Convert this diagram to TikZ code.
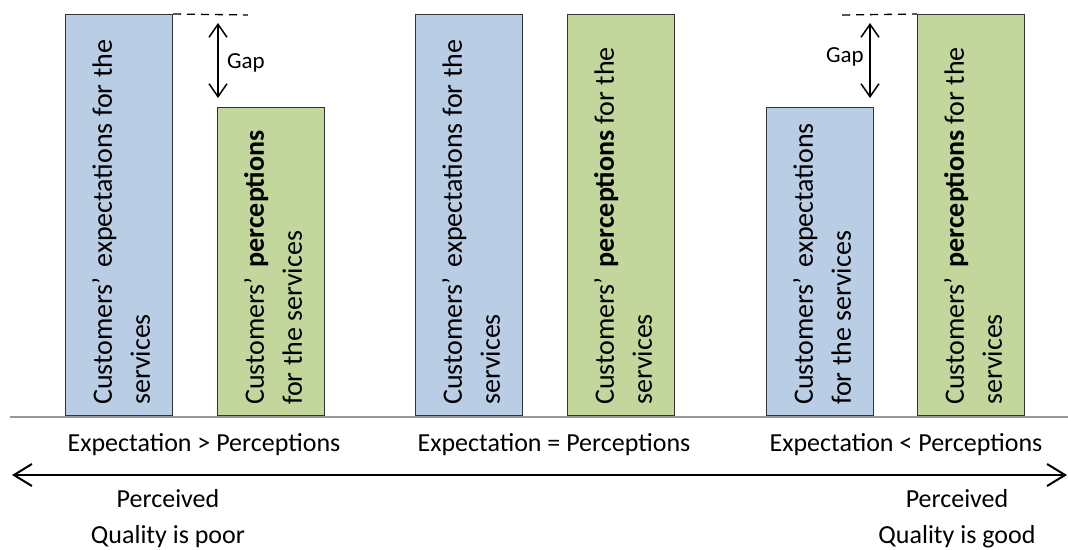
\documentclass[tikz,border=0pt]{standalone}
\usepackage{fontspec}
\setmainfont{Carlito}
\usepackage{tikz}
\usetikzlibrary{arrows.meta}
\definecolor{ExpectBlue}{HTML}{B9CDE5}
\definecolor{PerceiveGreen}{HTML}{C3D69B}
\definecolor{BarEdge}{HTML}{333333}
\definecolor{GroundGray}{HTML}{969696}

\begin{document}
\begin{tikzpicture}[x=1pt,y=-1pt,
    bar/.style={draw=BarEdge, line width=1pt, inner sep=0pt, minimum width=107pt, anchor=south west},
    expbar/.style={bar, fill=ExpectBlue},
    perbar/.style={bar, fill=PerceiveGreen},
    bartext/.style={rotate=90, anchor=west, align=left, inner sep=0pt, font=\fontsize{28}{38}\selectfont},
    caption/.style={anchor=base, inner sep=0pt, font=\fontsize{26}{30}\selectfont},
    gaplabel/.style={inner sep=0pt, font=\fontsize{23}{28}\selectfont},
    gaparrow/.style={{Straight Barb[length=13pt,width=18pt]}-{Straight Barb[length=13pt,width=18pt]}, line width=1.5pt},
    scalearrow/.style={{Straight Barb[length=18pt,width=22pt]}-{Straight Barb[length=18pt,width=22pt]}, line width=2pt}
  ]
  \useasboundingbox (0,0) rectangle (1068,549);

  % bars
  \node[expbar, minimum height=401pt] (b1) at (65,416) {};
  \node[perbar, minimum height=308pt] (b2) at (217,416) {};
  \node[expbar, minimum height=401pt] (b3) at (415,416) {};
  \node[perbar, minimum height=401pt] (b4) at (567,416) {};
  \node[expbar, minimum height=308pt] (b5) at (766,416) {};
  \node[perbar, minimum height=401pt] (b6) at (917,416) {};

  \node[bartext] (t1) at ([xshift=2pt,yshift=11pt]b1.south) {Customers’\hspace{0.12em} expectations for the\\services};
  \node[bartext] (t2) at ([xshift=2pt,yshift=11pt]b2.south) {Customers’\hspace{0.12em} \textbf{perceptions}\\for the services};
  \node[bartext] (t3) at ([xshift=2pt,yshift=11pt]b3.south) {Customers’\hspace{0.12em} expectations for the\\services};
  \node[bartext] (t4) at ([xshift=2pt,yshift=11pt]b4.south) {Customers’\hspace{0.12em} \textbf{perceptions} for the\\services};
  \node[bartext] (t5) at ([xshift=2pt,yshift=11pt]b5.south) {Customers’\hspace{0.12em} expectations\\for the services};
  \node[bartext] (t6) at ([xshift=2pt,yshift=11pt]b6.south) {Customers’\hspace{0.12em} \textbf{perceptions} for the\\services};

  % ground line
  \coordinate (groundW) at (10,417);
  \coordinate (groundE) at (1068,417);
  \draw[GroundGray, line width=2pt] (groundW) -- (groundE);

  % gaps
  \coordinate (dash1) at (248,15);
  \coordinate (dash2) at (842,15);
  \draw[dash pattern=on 8pt off 6pt, line width=1.3pt] (b1.north east) -- (dash1);
  \draw[dash pattern=on 8pt off 6pt, line width=1.3pt] (dash2) -- (b6.north west);
  \coordinate (g1top) at (218,23);
  \coordinate (g1bot) at (218,98);
  \coordinate (g2top) at (870,23);
  \coordinate (g2bot) at (870,98);
  \draw[gaparrow] (g1top) -- (g1bot);
  \draw[gaparrow] (g2top) -- (g2bot);
  \node[gaplabel] (gap1) at (246,63) {Gap};
  \node[gaplabel] (gap2) at (845,57) {Gap};

  % captions
  \node[caption] (c1) at (204,451) {Expectation > Perceptions};
  \node[caption] (c2) at (554,451) {Expectation = Perceptions};
  \node[caption] (c3) at (906,451) {Expectation < Perceptions};

  % quality scale
  \coordinate (poor) at (12,475);
  \coordinate (good) at (1067,475);
  \draw[scalearrow] (poor) -- (good);
  \node[caption] (p1) at (168,507) {Perceived};
  \node[caption] (q1) at (168,543) {Quality is poor};
  \node[caption] (p2) at (957,507) {Perceived};
  \node[caption] (q2) at (957,543) {Quality is good};
\end{tikzpicture}
\end{document}
